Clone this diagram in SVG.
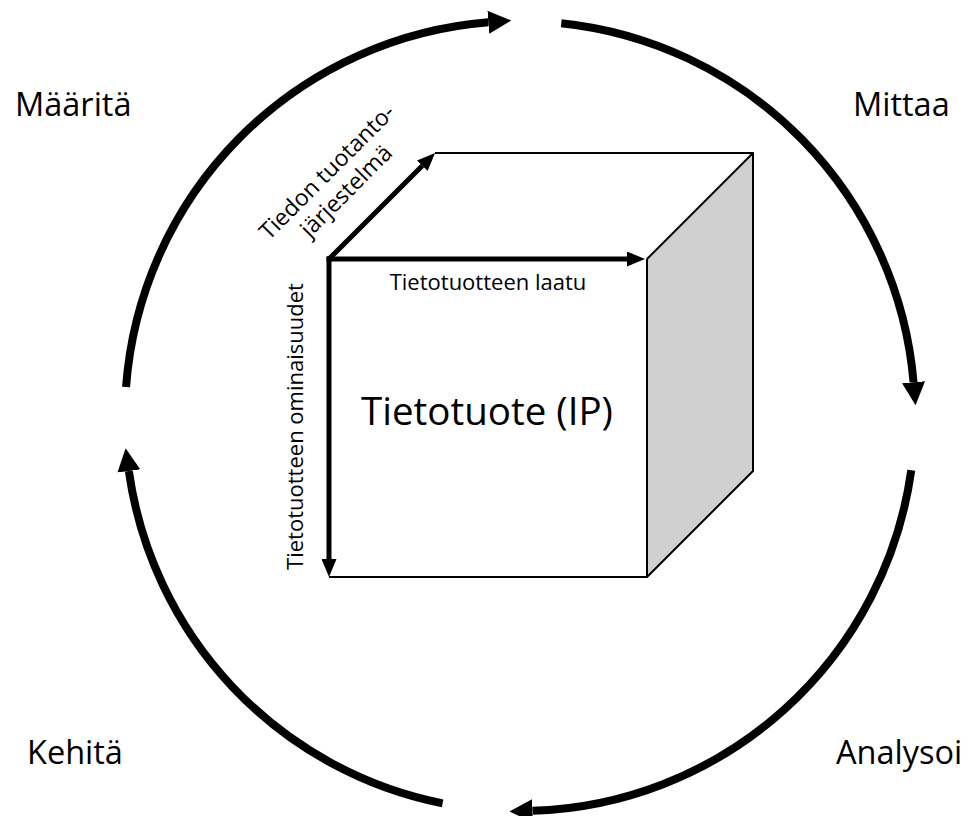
<svg xmlns="http://www.w3.org/2000/svg" width="970" height="816" viewBox="0 0 970 816">
  <style>
    .lbl { font-family: "Open Sans", "Liberation Sans", sans-serif; fill: #000; }
    .stage { font-size: 32.5px; }
    .small { font-size: 22px; }
    .cycle { fill: none; stroke: #000; stroke-width: 8; }
    .axis { fill: none; stroke: #000; stroke-width: 5; }
    .edge { fill: none; stroke: #000; stroke-width: 2; stroke-linejoin: round; }
  </style>
  <defs>
    <marker id="bigHead" markerUnits="userSpaceOnUse" viewBox="0 0 23 23" refX="0" refY="11.5" markerWidth="23" markerHeight="23" orient="auto">
      <path d="M0,0 L23,11.5 L0,23 Z" fill="#000"/>
    </marker>
    <marker id="smallHead" markerUnits="userSpaceOnUse" viewBox="0 0 18 15" refX="0" refY="7.5" markerWidth="18" markerHeight="15" orient="auto">
      <path d="M0,0 L18,7.5 L0,15 Z" fill="#000"/>
    </marker>
  </defs>

  <!-- cycle arcs: circle centred at (520,416), r = 395 -->
  <g id="connectors">
    <path class="cycle" d="M126.06,387.07 A395,395 0 0 1 488.32,22.27" marker-end="url(#bigHead)"/>
    <path class="cycle" d="M561.29,23.16 A395,395 0 0 1 913.56,382.26" marker-end="url(#bigHead)"/>
    <path class="cycle" d="M911.25,470.29 A395,395 0 0 1 532.41,810.81" marker-end="url(#bigHead)"/>
    <path class="cycle" d="M442.60,803.34 A395,395 0 0 1 128.84,470.97" marker-end="url(#bigHead)"/>
  </g>

  <!-- stage labels -->
  <g id="stage-maarita"><text class="lbl stage" x="15" y="116">Määritä</text></g>
  <g id="stage-mittaa"><text class="lbl stage" x="853" y="116">Mittaa</text></g>
  <g id="stage-analysoi"><text class="lbl stage" x="836" y="764">Analysoi</text></g>
  <g id="stage-kehita"><text class="lbl stage" x="27" y="764">Kehitä</text></g>

  <!-- information product cube -->
  <g id="cube">
    <polygon points="329,259 435,153 753,153 647,259" fill="#fff"/>
    <polygon points="647,259 753,153 753,471 647,577" fill="#d0d0d0"/>
    <rect x="329" y="259" width="318" height="318" fill="#fff"/>
    <polyline class="edge" points="435,153 753,153 753,471 647,577 329,577"/>
    <line class="edge" x1="647" y1="259" x2="753" y2="153"/>
    <line class="edge" x1="647" y1="259" x2="647" y2="577"/>
    <text class="lbl" x="487" y="425" font-size="38.5" text-anchor="middle">Tietotuote (IP)</text>
  </g>

  <!-- cube axes -->
  <g id="axis-quality">
    <line class="axis" x1="326.5" y1="259" x2="627" y2="259" marker-end="url(#smallHead)"/>
    <text class="lbl small" x="488" y="290" text-anchor="middle">Tietotuotteen laatu</text>
  </g>
  <g id="axis-properties">
    <line class="axis" x1="329" y1="256.5" x2="329" y2="559" marker-end="url(#smallHead)"/>
    <text class="lbl small" transform="translate(303,426.5) rotate(-90)" text-anchor="middle">Tietotuotteen ominaisuudet</text>
  </g>
  <g id="axis-system">
    <line class="axis" x1="329" y1="259" x2="422.3" y2="165.7" marker-end="url(#smallHead)"/>
    <g transform="translate(269,241) rotate(-45)">
      <text class="lbl" font-size="23" x="90" y="0" text-anchor="middle">Tiedon tuotanto-</text>
      <text class="lbl" font-size="23" x="90" y="27" text-anchor="middle">järjestelmä</text>
    </g>
  </g>
</svg>
